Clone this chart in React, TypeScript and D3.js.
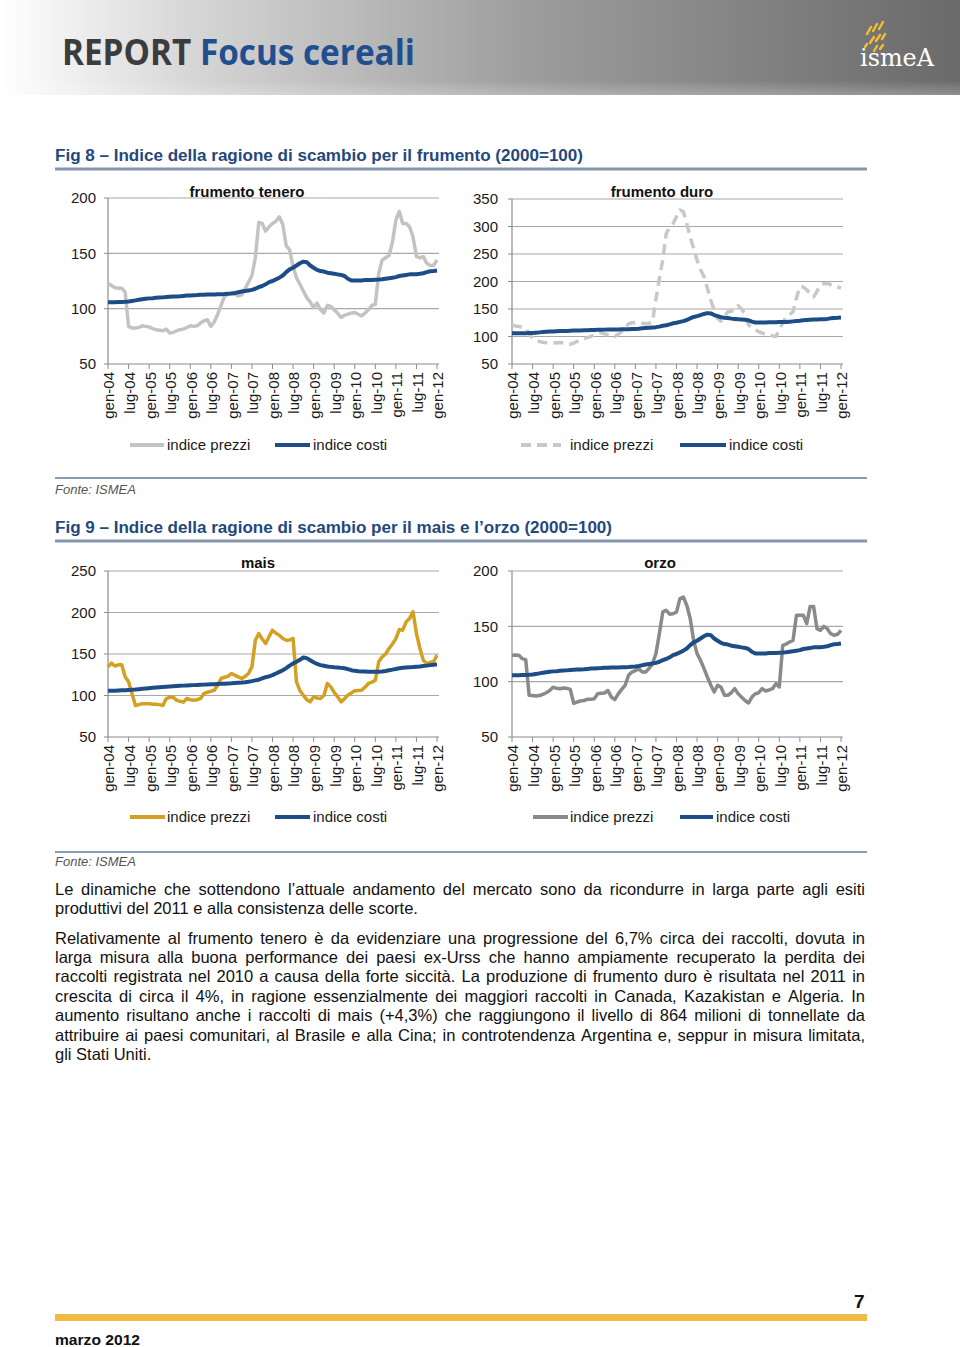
import React, { useMemo } from 'react';
import * as d3 from 'd3';

// ---------- DATA ----------
const tickLabels = [
  'gen-04', 'lug-04', 'gen-05', 'lug-05', 'gen-06', 'lug-06', 'gen-07', 'lug-07', 'gen-08',
  'lug-08', 'gen-09', 'lug-09', 'gen-10', 'lug-10', 'gen-11', 'lug-11', 'gen-12',
];

// monthly, gen-04 .. gen-12 (97 values)
const teneroPrezzi = [
  122.6, 121, 119, 118.5, 118.5, 115, 84, 82.5, 82.5, 83,
  84.5, 84, 83.5, 82, 81, 80.5, 80, 81.5, 78, 78.5,
  80, 81, 81.5, 83, 84.5, 84, 84.5, 87, 89, 90,
  84, 88, 95, 103, 111, 113, 114, 113, 111.5, 112.5,
  118, 124, 130, 146, 178, 177, 170, 174, 177, 179,
  183, 176, 157, 153, 138, 128, 122, 116, 110, 106,
  101, 105, 99, 96, 103, 102, 99, 96, 92, 94,
  95, 96, 96.5, 95, 93.5, 96, 99, 103, 104, 132,
  144, 146, 148, 160, 180, 188, 177, 177, 174, 165,
  147, 146, 147, 141, 139, 139, 144,
];

const costiFrumento = [
  105.7, 105.8, 105.9, 106, 106, 106.2, 106.5, 107, 107.5, 108,
  108.5, 109, 109.3, 109.5, 109.8, 110, 110.2, 110.5, 110.8, 111,
  111, 111.2, 111.5, 111.8, 112, 112.2, 112.3, 112.5, 112.6, 112.7,
  112.8, 112.9, 113, 113, 113.2, 113.5, 113.8, 114.2, 114.8, 115.5,
  116, 116.5, 117, 118, 119.5, 120.5, 122, 124, 125, 126.5,
  128, 130, 133, 135.5, 137, 139, 141, 142.5, 142, 139,
  137, 135, 134, 133.5, 132.5, 132, 131.5, 131, 130.5, 129.5,
  127, 125.5, 125.5, 125.5, 125.5, 125.8, 126, 126, 126.2, 126.3,
  126.5, 127, 127.5, 128, 128.5, 129.5, 130, 130.5, 131, 131,
  131.2, 131.5, 132, 133, 133.8, 134, 134.5,
];

const duroPrezzi = [
  121, 119, 118, 117, 115, 105, 97, 93, 91, 89.5,
  88.5, 88, 88, 88.5, 89, 88, 87, 86, 88, 91,
  94, 96, 98, 100, 103, 105, 107, 105, 103, 101,
  100, 104, 109, 116, 123, 125, 125, 124.5, 124, 123,
  124, 127, 168, 205, 240, 287, 298, 305, 318, 330,
  327, 305, 281, 260, 239, 222, 209, 188, 166, 148,
  133, 128, 136, 145, 146, 148, 156, 150, 141, 121,
  116, 112, 109, 106, 104, 103, 101, 100, 112, 125,
  136, 140, 145, 170, 191, 190, 185, 178, 172, 182,
  194, 196, 197, 194, 191, 190, 188,
];

const maisPrezzi = [
  134.5, 139, 135.5, 137, 137, 122.5, 116.5, 102.4, 88, 89,
  90, 90, 90, 89.5, 89.5, 89, 88, 96, 98, 98,
  94.4, 93, 92, 96.4, 95, 94.4, 95, 96.4, 102.4, 104,
  105, 106.4, 112.4, 120.5, 122, 123, 126.5, 124.5, 122.5, 120.5,
  123, 126.5, 134.5, 166.5, 174.7, 168, 162.6, 171, 178.7, 175,
  172.7, 168.7, 166.6, 167, 168.7, 116.5, 106, 100.4, 95, 92.4,
  98.4, 97, 96.4, 100, 114.5, 110.4, 104, 98.4, 92.4, 96,
  100.4, 103, 105.6, 106, 106.4, 110, 114.5, 116, 118.5, 140.6,
  146.6, 150, 156.6, 162, 168.6, 179.5, 178.7, 188.8, 192.8, 200.8,
  174.7, 157, 142.6, 138.5, 140, 140.6, 148.6,
];

const costiMais = [
  105.6, 105.7, 105.8, 106, 106.2, 106.4, 106.7, 107, 107.2, 107.6,
  108, 108.4, 108.8, 109.2, 109.6, 110, 110.3, 110.6, 110.9, 111.2,
  111.5, 111.7, 111.9, 112.1, 112.3, 112.5, 112.7, 112.9, 113.1, 113.3,
  113.5, 113.7, 113.9, 114.1, 114.3, 114.5, 114.7, 115, 115.3, 115.6,
  116, 116.6, 117.3, 118.2, 119, 120.5, 122, 123, 124.5, 126.5,
  128.5, 130.5, 133, 136, 138.5, 140.6, 143, 145.8, 145, 142.5,
  140, 138, 136.6, 135.8, 135, 134.5, 134, 133.8, 133.3, 132.8,
  131.8, 130.5, 129.7, 129.2, 129, 128.8, 128.6, 128.5, 128.5, 128.7,
  129, 129.6, 130.5, 131.2, 132, 132.8, 133.5, 133.8, 134, 134.2,
  134.6, 135, 135.5, 136, 136.6, 137, 137.5,
];

const orzoPrezzi = [
  123.8, 124, 123.8, 120.8, 119.9, 87.7, 87.5, 87, 87.5, 88.5,
  90, 92, 95, 94, 93.6, 94.3, 94, 93, 80.5, 81.6,
  82.5, 83, 84, 84, 84.6, 89, 89.5, 89.8, 92, 86,
  83.7, 89, 93, 96.7, 105.7, 108.7, 110, 111.7, 108.7, 108.7,
  112, 116.3, 125.3, 143.4, 163, 164.5, 161, 161.4, 163, 175,
  176.5, 169, 157, 137.3, 125.3, 119.3, 112, 104.2, 97, 90.7,
  96.7, 95, 87.7, 87.7, 90, 93.7, 89, 86, 83, 80.7,
  86.1, 89, 90, 93.7, 91.6, 92.5, 93.7, 98.2, 95.2, 132.8,
  134, 135.8, 137.3, 160, 160, 160, 152.4, 168, 168, 147.9,
  146.4, 150, 147.9, 143.4, 141.9, 142.8, 146.4,
];

const ticksTenero = [50, 100, 150, 200];
const ticksDuro = [50, 100, 150, 200, 250, 300, 350];
const ticksMais = [50, 100, 150, 200, 250];
const ticksOrzo = [50, 100, 150, 200];

const legendLabels = ['indice prezzi', 'indice costi'];

const paragraph1 = [
  'Le dinamiche che sottendono l’attuale andamento del mercato sono da ricondurre in larga parte agli esiti',
  'produttivi del 2011 e alla consistenza delle scorte.',
];
const paragraph2 = [
  'Relativamente al frumento tenero è da evidenziare una progressione del 6,7% circa dei raccolti, dovuta in',
  'larga misura alla buona performance dei paesi ex-Urss che hanno ampiamente recuperato la perdita dei',
  'raccolti registrata nel 2010 a causa della forte siccità. La produzione di frumento duro è risultata nel 2011 in',
  'crescita di circa il 4%, in ragione essenzialmente dei maggiori raccolti in Canada, Kazakistan e Algeria. In',
  'aumento risultano anche i raccolti di mais (+4,3%) che raggiungono il livello di 864 milioni di tonnellate da',
  'attribuire ai paesi comunitari, al Brasile e alla Cina; in controtendenza Argentina e, seppur in misura limitata,',
  'gli Stati Uniti.',
];

// ---------- STYLE ----------
const FONT = '"Liberation Sans", Arial, sans-serif';
const BLUE = '#1d4d86';
const GRID = '#a8a8a8';
const AXIS = '#8c8c8c';

type ChartProps = {
  x0: number; x1: number; yTop: number; yBottom: number;
  domain: [number, number]; ticks: number[];
  title: string; titleX: number; titleY: number;
  prezzi: number[]; costi: number[];
  color: string; dashed?: boolean; width?: number;
  labelRight: number;
  legend: { l1: [number, number]; t1: number; l2: [number, number]; t2: number; y: number };
};

function Chart(p: ChartProps) {
  const x = d3.scaleLinear().domain([0, 96]).range([p.x0, p.x1]);
  const y = d3.scaleLinear().domain(p.domain).range([p.yBottom, p.yTop]);
  const line = d3.line<number>().x((_, i) => x(i)).y((d) => y(d)).curve(d3.curveLinear);
  const tickIdx = tickLabels.map((_, i) => i * 6);
  return (
    <g>
      {p.ticks.map((t) => (
        <g key={t}>
          {t !== p.domain[0] && (
            <line x1={p.x0} x2={p.x1 + 2} y1={y(t)} y2={y(t)} stroke={GRID} strokeWidth={1.2} />
          )}
          <line x1={p.x0 - 4} x2={p.x0} y1={y(t)} y2={y(t)} stroke={AXIS} strokeWidth={1} />
          <text x={p.labelRight} y={y(t)} dy="0.36em" textAnchor="end" fontSize={15} fontFamily={FONT} fill="#1a1a1a">
            {t}
          </text>
        </g>
      ))}
      <line x1={p.x0} x2={p.x0} y1={p.yTop} y2={p.yBottom} stroke={AXIS} strokeWidth={1.2} />
      <line x1={p.x0} x2={p.x1 + 2} y1={p.yBottom} y2={p.yBottom} stroke={AXIS} strokeWidth={1.2} />
      {tickIdx.map((m, i) => (
        <g key={i}>
          <line x1={x(m)} x2={x(m)} y1={p.yBottom} y2={p.yBottom + 5} stroke={AXIS} strokeWidth={1} />
          <text
            transform={`translate(${x(m) + 1},${p.yBottom + 8}) rotate(-90)`}
            dy="0.36em" textAnchor="end" fontSize={15} fontFamily={FONT} fill="#1a1a1a"
          >
            {tickLabels[i]}
          </text>
        </g>
      ))}
      <text x={p.titleX} y={p.titleY} textAnchor="middle" fontSize={15} fontWeight="bold" fontFamily={FONT} fill="#111">
        {p.title}
      </text>
      <path d={line(p.prezzi) || ''} fill="none" stroke={p.color} strokeWidth={p.width ?? 3.5}
        strokeDasharray={p.dashed ? '10,6' : undefined} strokeLinejoin="round" />
      <path d={line(p.costi) || ''} fill="none" stroke={BLUE} strokeWidth={4} strokeLinejoin="round" />
      {/* legend */}
      <line x1={p.legend.l1[0]} x2={p.legend.l1[1]} y1={p.legend.y} y2={p.legend.y} stroke={p.color}
        strokeWidth={4} strokeDasharray={p.dashed ? '10,6' : undefined} />
      <text x={p.legend.t1} y={p.legend.y} dy="0.36em" fontSize={15} fontFamily={FONT} fill="#1a1a1a">{legendLabels[0]}</text>
      <line x1={p.legend.l2[0]} x2={p.legend.l2[1]} y1={p.legend.y} y2={p.legend.y} stroke={BLUE} strokeWidth={4} />
      <text x={p.legend.t2} y={p.legend.y} dy="0.36em" fontSize={15} fontFamily={FONT} fill="#1a1a1a">{legendLabels[1]}</text>
    </g>
  );
}

function useJustified(lines: string[], width: number, fontFamily: string) {
  return useMemo(() => {
    const ctx = document.createElement('canvas').getContext('2d')!;
    const base = 16;
    ctx.font = `${base}px ${fontFamily}`;
    const widest = Math.max(...lines.map((l) => ctx.measureText(l).width));
    const size = Math.min(16.5, (base * width) / widest);
    ctx.font = `${size}px ${fontFamily}`;
    return { size, measure: (s: string) => ctx.measureText(s).width };
  }, [lines.join('|'), width, fontFamily]);
}

function Paragraph({ lines, x, y, lh, width, size, measure }: any) {
  return (
    <g>
      {lines.map((ln: string, i: number) => {
        const last = i === lines.length - 1;
        if (last) {
          return (
            <text key={i} x={x} y={y + i * lh} fontSize={size} fontFamily={FONT} fill="#111">{ln}</text>
          );
        }
        const words = ln.split(' ');
        const ws = words.map((w) => measure(w));
        const total = ws.reduce((a: number, b: number) => a + b, 0);
        const gap = (width - total) / (words.length - 1);
        let cx = x;
        const xs = ws.map((w: number) => { const v = cx; cx += w + gap; return v; });
        return (
          <text key={i} y={y + i * lh} fontSize={size} fontFamily={FONT} fill="#111">
            {words.map((w, j) => (
              <tspan key={j} x={xs[j]}>{w}</tspan>
            ))}
          </text>
        );
      })}
    </g>
  );
}

// logo sparks: [x1, y1, x2, y2]
const logoSparks = [
  [867, 34, 871, 27], [873, 31, 877, 24], [879, 29, 883, 22],
  [870, 43, 874, 37], [876, 41, 880, 35], [882, 39, 885, 34],
  [874, 51, 877, 46], [880, 49, 883, 45], [865, 47, 867, 44],
];

export default function App() {
  const all = [...paragraph1, ...paragraph2];
  const { size, measure } = useJustified(all, 810, FONT);
  return (
    <div style={{ position: 'absolute', left: 0, top: 0 }}>
      <svg width={960} height={1347} viewBox="0 0 960 1347" style={{ display: 'block', background: '#fff' }}>
        <defs>
          <linearGradient id="hdr" x1="0" x2="1" y1="0" y2="0">
            <stop offset="0" stopColor="#ffffff" />
            <stop offset="0.2" stopColor="#d6d6d6" />
            <stop offset="0.55" stopColor="#9d9d9d" />
            <stop offset="1" stopColor="#6a6a6a" />
          </linearGradient>
          <linearGradient id="hdrV" x1="0" x2="0" y1="0" y2="1">
            <stop offset="0.85" stopColor="#ffffff" stopOpacity="0" />
            <stop offset="1" stopColor="#ffffff" stopOpacity="0.25" />
          </linearGradient>
        </defs>
        {/* header */}
        <rect x={0} y={0} width={960} height={95} fill="url(#hdr)" />
        <rect x={0} y={0} width={960} height={95} fill="url(#hdrV)" />
        <text x={62} y={65} fontSize={35} fontWeight="bold" fontFamily='"Open Sans", sans-serif' textLength={353} lengthAdjust="spacingAndGlyphs">
          <tspan fill="#3c3c3c">REPORT </tspan>
          <tspan fill="#1f4f8f">Focus cereali</tspan>
        </text>
        {/* ismea logo */}
        <g>
          {logoSparks.map((s, i) => (
            <line key={i} x1={s[0]} y1={s[1]} x2={s[2]} y2={s[3]} stroke="#f2c12e" strokeWidth={2.4} strokeLinecap="round" />
          ))}
          <text x={860} y={66} fontSize={24} fontFamily='"DejaVu Serif", serif' fill="#ffffff" textLength={74} lengthAdjust="spacingAndGlyphs">ismeA</text>
        </g>

        {/* Fig 8 */}
        <text x={55} y={161} fontSize={16} fontWeight="bold" fontFamily={FONT} fill="#1f497d" textLength={528} lengthAdjust="spacingAndGlyphs">
          Fig 8 – Indice della ragione di scambio per il frumento (2000=100)
        </text>
        <line x1={55} x2={867} y1={169} y2={169} stroke="#8595ad" strokeWidth={3} />

        <Chart x0={108} x1={437} yTop={198} yBottom={364} domain={[50, 200]} ticks={ticksTenero}
          title="frumento tenero" titleX={247} titleY={197} prezzi={teneroPrezzi} costi={costiFrumento}
          color="#c3c3c3" labelRight={96}
          legend={{ l1: [130, 164], t1: 167, l2: [275, 310], t2: 313, y: 445 }} />
        <Chart x0={512} x1={841} yTop={199} yBottom={364} domain={[50, 350]} ticks={ticksDuro}
          title="frumento duro" titleX={662} titleY={197} prezzi={duroPrezzi} costi={costiFrumento}
          color="#c8c8c8" dashed labelRight={498}
          legend={{ l1: [521, 561], t1: 570, l2: [680, 726], t2: 729, y: 445 }} />

        <line x1={55} x2={867} y1={478} y2={478} stroke="#5f7c9c" strokeWidth={1.5} />
        <text x={55} y={494} fontSize={13} fontStyle="italic" fontFamily={FONT} fill="#555">Fonte: ISMEA</text>

        {/* Fig 9 */}
        <text x={55} y={533} fontSize={16} fontWeight="bold" fontFamily={FONT} fill="#1f497d" textLength={557} lengthAdjust="spacingAndGlyphs">
          Fig 9 – Indice della ragione di scambio per il mais e l’orzo (2000=100)
        </text>
        <line x1={55} x2={867} y1={541} y2={541} stroke="#8595ad" strokeWidth={3} />

        <Chart x0={108} x1={437} yTop={571} yBottom={737} domain={[50, 250]} ticks={ticksMais}
          title="mais" titleX={258} titleY={568} prezzi={maisPrezzi} costi={costiMais}
          color="#d4a021" labelRight={96}
          legend={{ l1: [130, 165], t1: 167, l2: [275, 310], t2: 313, y: 817 }} />
        <Chart x0={512} x1={841} yTop={571} yBottom={737} domain={[50, 200]} ticks={ticksOrzo}
          title="orzo" titleX={660} titleY={568} prezzi={orzoPrezzi} costi={costiFrumento}
          color="#8a8a8a" labelRight={498}
          legend={{ l1: [533, 568], t1: 570, l2: [680, 713], t2: 716, y: 817 }} />

        <line x1={55} x2={867} y1={852} y2={852} stroke="#5f7c9c" strokeWidth={1.5} />
        <text x={55} y={866} fontSize={13} fontStyle="italic" fontFamily={FONT} fill="#555">Fonte: ISMEA</text>

        {/* text */}
        <Paragraph lines={paragraph1} x={55} y={894.5} lh={19.4} width={810} size={size} measure={measure} />
        <Paragraph lines={paragraph2} x={55} y={943.5} lh={19.4} width={810} size={size} measure={measure} />

        {/* footer */}
        <text x={854} y={1308} fontSize={19} fontWeight="bold" fontFamily={FONT} fill="#111">7</text>
        <rect x={55} y={1314} width={812} height={7} fill="#f0bb45" />
        <text x={55} y={1345} fontSize={14} fontWeight="bold" fontFamily={FONT} fill="#111" textLength={85} lengthAdjust="spacingAndGlyphs">marzo 2012</text>
      </svg>
    </div>
  );
}
